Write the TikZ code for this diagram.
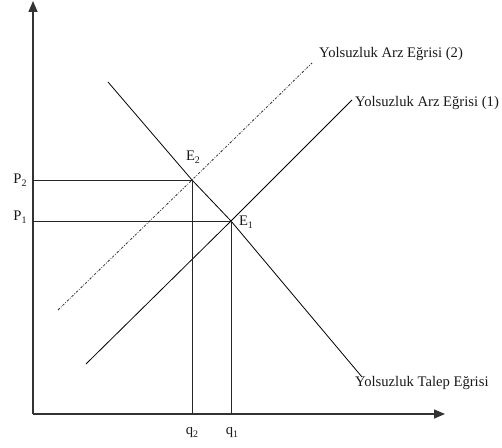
\documentclass[tikz,border=0pt]{standalone}
\usepackage{fontspec}
\setmainfont{Liberation Serif}
\usetikzlibrary{arrows.meta}
\newcommand{\sbs}[1]{{\fontsize{10}{10}\selectfont\raisebox{-2.5bp}{#1}}}
\tikzset{
  axis/.style={draw=black!80, line width=1.5bp, -{Triangle[length=11bp,width=9bp]}},
  curve/.style={draw=black, line width=0.8bp},
  guide/.style={draw=black!85, line width=0.7bp},
  dashdot2/.style={draw=black!80, line width=0.8bp, dash pattern=on 2.5bp off 1.5bp on 0.8bp off 1.5bp},
  lbl/.style={font=\fontsize{14.7}{17}\selectfont, inner sep=0pt, text=black!90}
}
\begin{document}
\begin{tikzpicture}[x=1bp,y=-1bp]
\useasboundingbox (0,0) rectangle (502,448);
% axes
\coordinate (O) at (33,414);
\coordinate (ytop) at (33,1);
\coordinate (xend) at (445,414);
\draw[axis] (O) -- (ytop);
\draw[axis] (O) -- (xend);
% equilibria
\coordinate (E2) at (192,180);
\coordinate (E1) at (231,221);
% demand
\coordinate (dA) at (108,82);
\coordinate (dB) at (362,377);
\draw[curve] (dA) -- (E2) -- (E1) -- (dB);
% supply 1
\coordinate (s1A) at (86,364);
\coordinate (s1B) at (352,100);
\draw[curve] (s1A) -- (E1) -- (s1B);
% supply 2
\coordinate (s2A) at (58,310);
\coordinate (s2B) at (312,63);
\draw[dashdot2] (s2A) -- (E2) -- (s2B);
% guides
\coordinate (P2a) at (33,180);
\coordinate (P1a) at (33,221);
\coordinate (q2a) at (192,414);
\coordinate (q1a) at (231,414);
\draw[guide] (P2a) -- (E2) -- (q2a);
\draw[guide] (P1a) -- (E1) -- (q1a);
% labels
\node[lbl, anchor=west] (L2) at (319,54) {Yolsuzluk Arz Eğrisi (2)};
\node[lbl, anchor=west] (L1) at (355,103) {Yolsuzluk Arz Eğrisi (1)};
\node[lbl, anchor=west] (LT) at (355,383) {Yolsuzluk Talep Eğrisi};
\node[lbl] (P2) at (20,180) {P\sbs{2}};
\node[lbl] (P1) at (20,217) {P\sbs{1}};
\node[lbl] (E2l) at (193,157) {E\sbs{2}};
\node[lbl] (E1l) at (246,222) {E\sbs{1}};
\node[lbl] (q2) at (192,433) {q\sbs{2}};
\node[lbl] (q1) at (232,433) {q\sbs{1}};
\end{tikzpicture}
\end{document}
